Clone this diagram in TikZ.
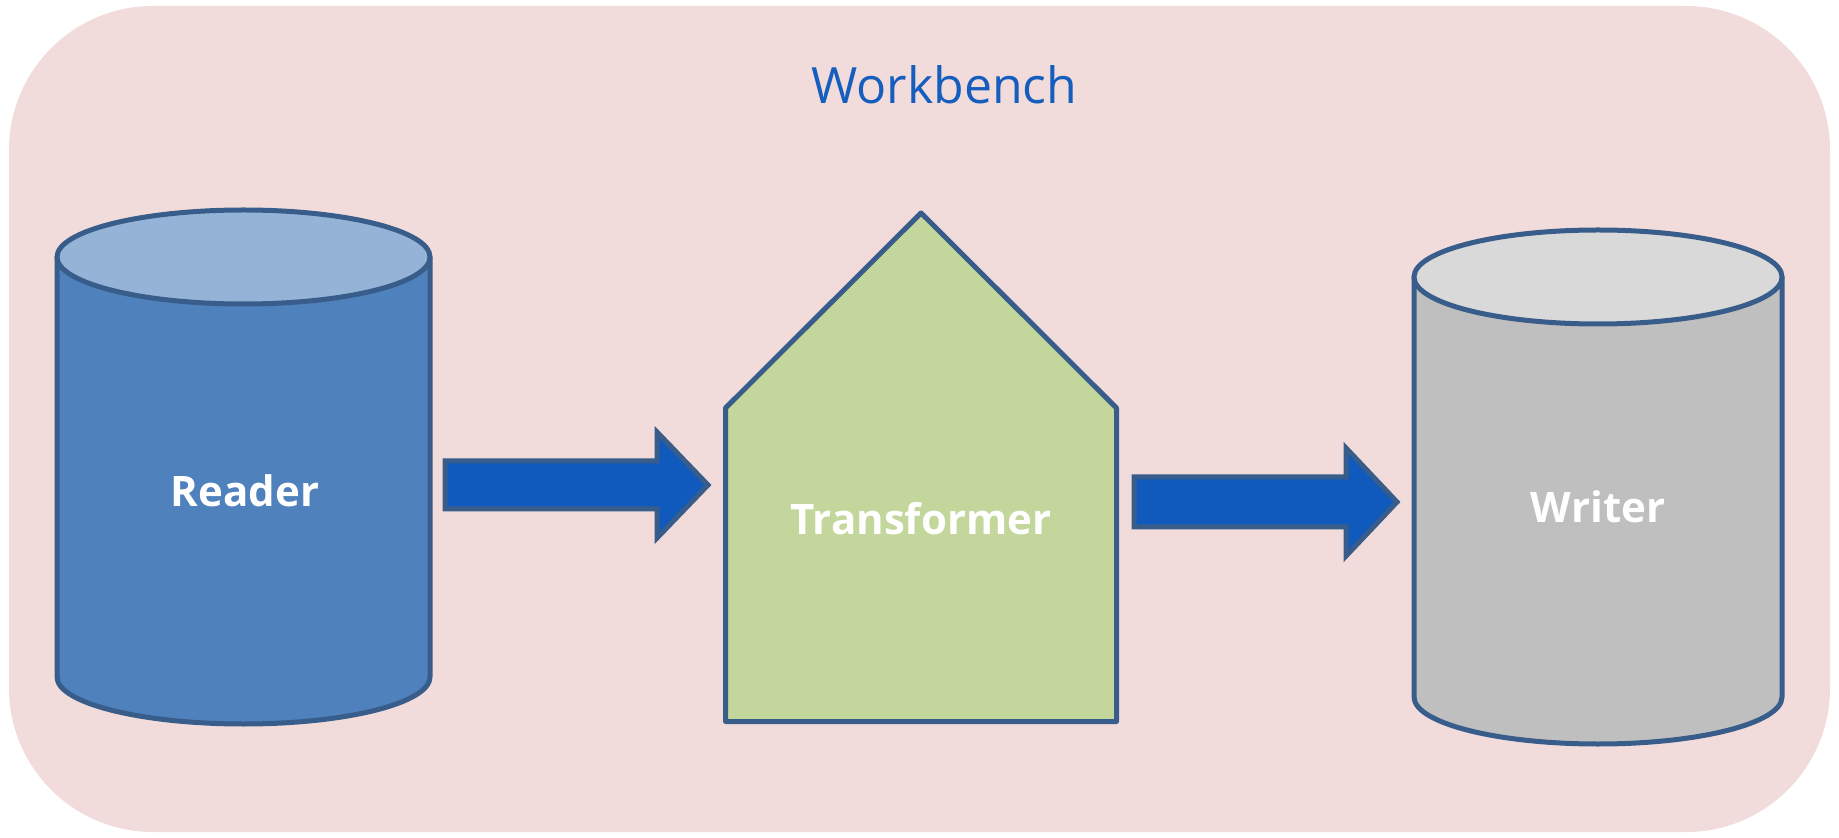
\documentclass[tikz,border=0pt]{standalone}
\usepackage{fontspec}
\setmainfont{Open Sans}
\definecolor{benchpink}{HTML}{F2DCDB}
\definecolor{titleblue}{HTML}{155EBE}
\definecolor{edgeblue}{HTML}{385D8A}
\definecolor{readerbody}{HTML}{4F81BD}
\definecolor{readertop}{HTML}{95B3D7}
\definecolor{arrowblue}{HTML}{1059BD}
\definecolor{transgreen}{HTML}{C3D69B}
\definecolor{writerbody}{HTML}{BFBFBF}
\definecolor{writertop}{HTML}{D9D9D9}
\tikzset{
    outline/.style={draw=edgeblue, line width=2.5pt, line join=round},
    blockarrow/.style={outline, line join=miter, fill=arrowblue},
    label/.style={text=white, inner sep=0pt, anchor=base, font=\fontsize{21}{25}\selectfont\bfseries},
}
\begin{document}
\begin{tikzpicture}[x=0.5pt, y=0.5pt]
    \useasboundingbox (0,0) rectangle (1839,-838);
    % workbench
    \fill[benchpink, rounded corners=72pt] (9,-6) rectangle (1830,-832);
    \node[text=titleblue, inner sep=0pt, anchor=base west, font=\fontsize{25}{30}\selectfont]
        (workbench) at (811,-104) {Workbench};
    % reader
    \filldraw[outline, fill=readerbody] (57,-257) -- (57,-677)
        arc[start angle=180, end angle=360, x radius=186.5, y radius=47] -- (430,-257) -- cycle;
    \filldraw[outline, fill=readertop] (243.5,-257) ellipse[x radius=186.5, y radius=47];
    \node[label] (reader) at (245,-507) {Reader};
    % reader -> transformer
    \filldraw[blockarrow] (445,-461) -- (657,-461) -- (657,-432) -- (708,-485)
        -- (657,-538) -- (657,-509) -- (445,-509) -- cycle;
    % transformer
    \filldraw[outline, fill=transgreen] (725.5,-721.5) -- (725.5,-408) -- (921,-213)
        -- (1116.5,-408) -- (1116.5,-721.5) -- cycle;
    \node[label] (transformer) at (921,-535) {Transformer};
    % transformer -> writer
    \filldraw[blockarrow] (1134,-477) -- (1346,-477) -- (1346,-448) -- (1397,-502)
        -- (1346,-556) -- (1346,-527) -- (1134,-527) -- cycle;
    % writer
    \filldraw[outline, fill=writerbody] (1414,-277) -- (1414,-697)
        arc[start angle=180, end angle=360, x radius=184, y radius=47] -- (1782,-277) -- cycle;
    \filldraw[outline, fill=writertop] (1598,-277) ellipse[x radius=184, y radius=47];
    \node[label] (writer) at (1598,-523) {Writer};
\end{tikzpicture}
\end{document}
